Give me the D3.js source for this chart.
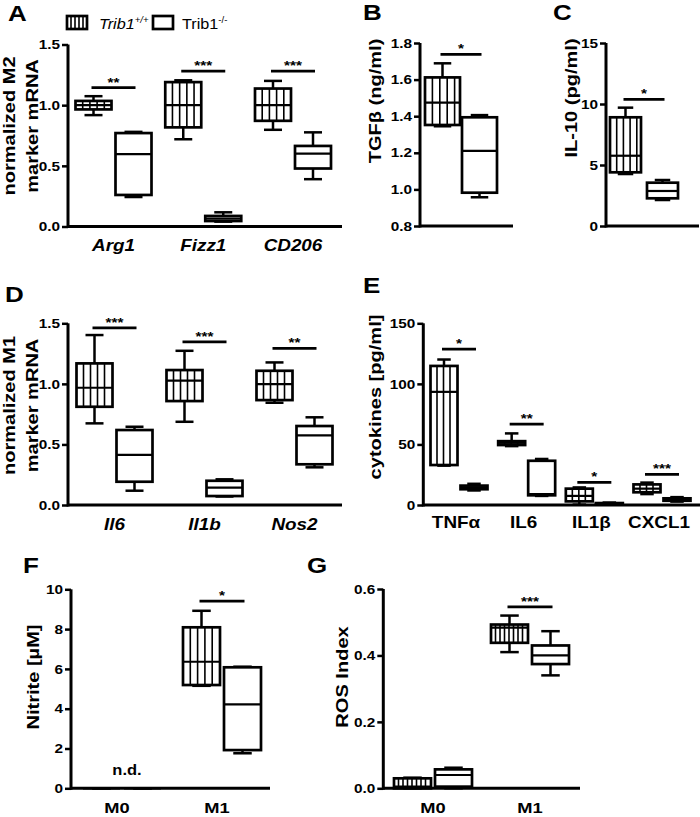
<!DOCTYPE html>
<html><head><meta charset="utf-8">
<script src="https://cdn.jsdelivr.net/npm/d3@7"></script>
<style>
body{margin:0;background:#fff}
svg{display:block}
text{font-family:"Liberation Sans",Arial,sans-serif;fill:#000}
</style>
</head><body>
<svg id="chart" width="700" height="817"></svg>
<script>
// ---------------- DATA ----------------
// each box: [min, q1, median, q3, max]
const aCategories = ["Arg1", "Fizz1", "CD206"];
const aWT = [[0.918,0.965,1.0,1.035,1.074],[0.719,0.817,1.0,1.19,1.205],[0.797,0.871,1.0,1.137,1.20]];
const aKO = [[0.243,0.26,0.596,0.77,0.78],[0.04,0.045,0.065,0.087,0.117],[0.39,0.478,0.60,0.664,0.776]];
const aStars = ["**", "***", "***"];
const aStarY = [1.144, 1.28, 1.28];
const aTicks = [0, 0.5, 1.0, 1.5];

const bCategories = ["TGFb"];
const bWT = [[1.345,1.352,1.474,1.612,1.689]];
const bKO = [[0.957,0.982,1.21,1.394,1.406]];
const bStars = ["*"];
const bStarY = [1.738];
const bTicks = [0.8, 1.0, 1.2, 1.4, 1.6, 1.8];

const cCategories = ["IL10"];
const cWT = [[4.26,4.40,5.76,8.91,9.70]];
const cKO = [[2.13,2.27,2.87,3.55,3.77]];
const cStars = ["*"];
const cStarY = [10.38];
const cTicks = [0, 5, 10, 15];

const dCategories = ["Il6", "Il1b", "Nos2"];
const dWT = [[0.674,0.811,0.968,1.169,1.403],[0.687,0.858,1.026,1.114,1.273],[0.844,0.866,0.998,1.108,1.177]];
const dKO = [[0.118,0.192,0.413,0.619,0.646],[0.07,0.074,0.143,0.20,0.212],[0.311,0.336,0.575,0.652,0.724]];
const dStars = ["***", "***", "**"];
const dStarY = [1.463, 1.347, 1.293];
const dTicks = [0, 0.5, 1.0, 1.5];

const eCategories = ["TNFα", "IL6", "IL1β", "CXCL1"];
const eWT = [[32.5,33,93.4,114.8,120.1],[48.6,49.5,51.3,52.7,59.1],[0.3,3,7.5,13.5,14.5],[9,10.5,13.5,17,18.5]];
const eKO = [[12,13,14.5,16,17.5],[7.5,8,9,36.5,38],[0.5,0.8,1.2,1.6,2],[2.8,3.5,4.5,5.5,6.5]];
const eStars = ["*", "**", "*", "***"];
const eStarY = [128.6, 66.8, 18.7, 25.3];
const eTicks = [0, 50, 100, 150];

const fCategories = ["M0", "M1"];
const fWT = [[0,0,0,0,0],[5.15,5.19,6.36,8.09,8.92]];
const fKO = [[0,0,0,0,0],[1.76,1.92,4.22,6.08,6.11]];
const fStars = ["n.d.", "*"];
const fStarY = [null, 9.41];
const fTicks = [0, 2, 4, 6, 8, 10];

const gCategories = ["M0", "M1"];
const gWT = [[0,0,0.005,0.03,0.032],[0.41,0.438,0.484,0.493,0.52]];
const gKO = [[0,0.005,0.04,0.057,0.062],[0.34,0.374,0.40,0.43,0.473]];
const gStars = [null, "***"];
const gStarY = [null, 0.546];
const gTicks = [0, 0.2, 0.4, 0.6];

const legendLabels = ["Trib1", "Trib1"];
const legendSups = ["+/+", "-/-"];

// ---------------- DRAWING ----------------
const SX = 1.18;
const svg = d3.select("#chart");
svg.append("rect").attr("width",700).attr("height",817).attr("fill","#fff");

function txt(g, x, y, s, o = {}) {
  return g.append("text")
    .attr("transform", `translate(${x},${y}) rotate(${o.rot||0}) scale(${o.sx||SX},1)`)
    .attr("text-anchor", o.anchor || "middle")
    .attr("font-size", o.size || 13)
    .attr("font-weight", o.weight || "bold")
    .attr("font-style", o.style || "normal")
    .text(s);
}

function panel(cfg, cats, wt, ko, stars, starY, ticks) {
  const g = svg.append("g");
  const y = d3.scaleLinear().domain(cfg.dom).range(cfg.yr);
  const x = d3.scalePoint().domain(cats).range(cfg.xr);

  // y axis
  const ya = g.append("g").attr("transform", `translate(${cfg.x0},0)`)
    .call(d3.axisLeft(y).tickValues(ticks).tickSizeOuter(0).tickSize(6).tickPadding(2)
      .tickFormat(d3.format(cfg.fmt)));
  ya.select(".domain").attr("stroke-width", 3).attr("d", `M0,${cfg.yr[0]+1.5}V${cfg.yr[1]}`);
  ya.selectAll(".tick line").attr("stroke-width", 2.5);
  ya.selectAll(".tick text").attr("font-size", 13).attr("font-weight", "bold")
    .attr("font-family", '"Liberation Sans",Arial,sans-serif')
    .attr("x", -8 / SX).attr("transform", `scale(${SX},1)`);

  // x axis
  const xa = g.append("g").attr("transform", `translate(0,${cfg.yr[0]})`)
    .call(d3.axisBottom(x).tickSize(0).tickPadding(0));
  xa.select(".domain").attr("stroke-width", 3).attr("d", `M${cfg.x0},0H${cfg.x1}`);
  xa.selectAll(".tick text").remove();

  const groups = [[wt, -1], [ko, 1]];
  cats.forEach((c, i) => {
    const cx = x(c);
    groups.forEach(([data, side], gi) => {
      const v = data[i];
      const left = side < 0 ? cx - cfg.gap / 2 - cfg.w : cx + cfg.gap / 2;
      const right = left + cfg.w;
      const mid = (left + right) / 2;
      const yq1 = y(v[1]), yq3 = y(v[3]);
      // whiskers
      g.append("line").attr("x1", mid).attr("x2", mid).attr("y1", y(v[4])).attr("y2", yq3)
        .attr("stroke", "#000").attr("stroke-width", 2.5);
      g.append("line").attr("x1", mid).attr("x2", mid).attr("y1", y(v[0])).attr("y2", yq1)
        .attr("stroke", "#000").attr("stroke-width", 2.5);
      [v[0], v[4]].forEach(val => {
        g.append("line").attr("x1", mid - cfg.w / 4).attr("x2", mid + cfg.w / 4)
          .attr("y1", y(val)).attr("y2", y(val)).attr("stroke", "#000").attr("stroke-width", 2.5);
      });
      g.append("rect").attr("x", left).attr("y", yq3).attr("width", cfg.w)
        .attr("height", Math.max(0, yq1 - yq3)).attr("fill", "#fff");
      if (gi === 0) {
        for (let sx = left + cfg.stripe; sx < right - 1.5; sx += cfg.stripe) {
          g.append("line").attr("x1", sx).attr("x2", sx).attr("y1", yq3).attr("y2", yq1)
            .attr("stroke", "#000").attr("stroke-width", 1.6);
        }
      }
      g.append("line").attr("x1", left).attr("x2", right).attr("y1", y(v[2])).attr("y2", y(v[2]))
        .attr("stroke", "#000").attr("stroke-width", 2.2);
      g.append("rect").attr("x", left).attr("y", yq3).attr("width", cfg.w)
        .attr("height", Math.max(0, yq1 - yq3)).attr("fill", "none")
        .attr("stroke", "#000").attr("stroke-width", 2.7);
    });
    // significance
    if (starY[i] != null) {
      const sy = y(starY[i]);
      const hw = (cfg.w + cfg.gap) / 2 + 2;
      g.append("line").attr("x1", cx - hw).attr("x2", cx + hw).attr("y1", sy).attr("y2", sy)
        .attr("stroke", "#000").attr("stroke-width", 2.7);
      txt(g, cx, sy - 1, stars[i], { size: 13 });
    } else if (stars[i]) {
      txt(g, cfg.ndX, cfg.ndY, stars[i], { size: 14 });
    }
    // category label
    if (cfg.labelY) {
      txt(g, cx + (cfg.labelDx || 0), cfg.labelY, c, { size: cfg.labelSize || 16, style: cfg.italic ? "italic" : "normal" });
    }
  });

  // y title
  cfg.title.forEach((t, k) => {
    txt(g, cfg.titleX[k], cfg.titleY, t, { size: cfg.titleSize || 17, rot: -90 });
  });
  txt(g, cfg.letter[1], cfg.letter[2], cfg.letter[0], { size: 22, anchor: "start" });
}

panel({x0:68, x1:342, yr:[226.5,44.5], dom:[0,1.5], xr:[113.5,293], w:36, gap:4, stripe:7.2,
  fmt:".1f", labelY:251, italic:true, title:["normalized M2","marker mRNA"], titleX:[15,38], titleY:126,
  letter:["A",8,21]}, aCategories, aWT, aKO, aStars, aStarY, aTicks);

panel({x0:420, x1:513, yr:[226,43], dom:[0.8,1.8], xr:[461,461], w:35, gap:2, stripe:7.4,
  fmt:".1f", title:["TGFβ (ng/ml)"], titleX:[381], titleY:101,
  letter:["B",363,20]}, bCategories, bWT, bKO, bStars, bStarY, bTicks);

panel({x0:606, x1:699, yr:[226,43], dom:[0,15], xr:[644,644], w:31, gap:6, stripe:6.7,
  fmt:"d", title:["IL-10 (pg/ml)"], titleX:[576.5], titleY:98,
  letter:["C",553,20]}, cCategories, cWT, cKO, cStars, cStarY, cTicks);

panel({x0:68, x1:342, yr:[505,323.3], dom:[0,1.5], xr:[114.5,294.5], w:36, gap:4, stripe:7,
  fmt:".1f", labelY:530, italic:true, title:["normalized M1","marker mRNA"], titleX:[15,38], titleY:405.5,
  letter:["D",5,302]}, dCategories, dWT, dKO, dStars, dStarY, dTicks);

panel({x0:423.3, x1:700, yr:[505,323.3], dom:[0,150], xr:[459,662], w:27, gap:3, stripe:6.5,
  fmt:"d", labelY:528, labelDx:-3, title:["cytokines [pg/ml]"], titleX:[381], titleY:397,
  letter:["E",363,293]}, eCategories, eWT, eKO, eStars, eStarY, eTicks);

panel({x0:71, x1:270, yr:[788.3,589.3], dom:[0,10], xr:[122,222], w:37, gap:4, stripe:7.3,
  fmt:"d", labelY:813, labelDx:-5, labelSize:15.5, title:["Nitrite [µM]"], titleX:[38.5], titleY:677, ndX:127, ndY:775,
  letter:["F",23,573]}, fCategories, fWT, fKO, fStars, fStarY, fTicks);

panel({x0:383.3, x1:580, yr:[788.3,589], dom:[0,0.6], xr:[433,530], w:37, gap:4, stripe:4.5,
  fmt:".1f", labelY:813, labelSize:15.5, title:["ROS Index"], titleX:[348], titleY:677,
  letter:["G",307,573]}, gCategories, gWT, gKO, gStars, gStarY, gTicks);

// legend
const lg = svg.append("g");
const lx = [67, 153], tx = [99, 182];
legendLabels.forEach((l, i) => {
  lg.append("rect").attr("x", lx[i]).attr("y", 16).attr("width", 20).attr("height", 13)
    .attr("fill", "#fff").attr("stroke", "#000").attr("stroke-width", 2.7);
  if (i === 0) {
    for (let s = lx[i] + 4; s < lx[i] + 19; s += 4) {
      lg.append("line").attr("x1", s).attr("x2", s).attr("y1", 16).attr("y2", 29)
        .attr("stroke", "#000").attr("stroke-width", 1.6);
    }
  }
  const t = txt(lg, tx[i], 28.5, null, { size: 14.5, weight: "normal", anchor: "start", style: i === 0 ? "italic" : "normal", sx: 1.12 });
  t.append("tspan").text(l);
  t.append("tspan").attr("dy", -6).attr("font-size", 8.5).text(legendSups[i]);
});
</script>
</body></html>
